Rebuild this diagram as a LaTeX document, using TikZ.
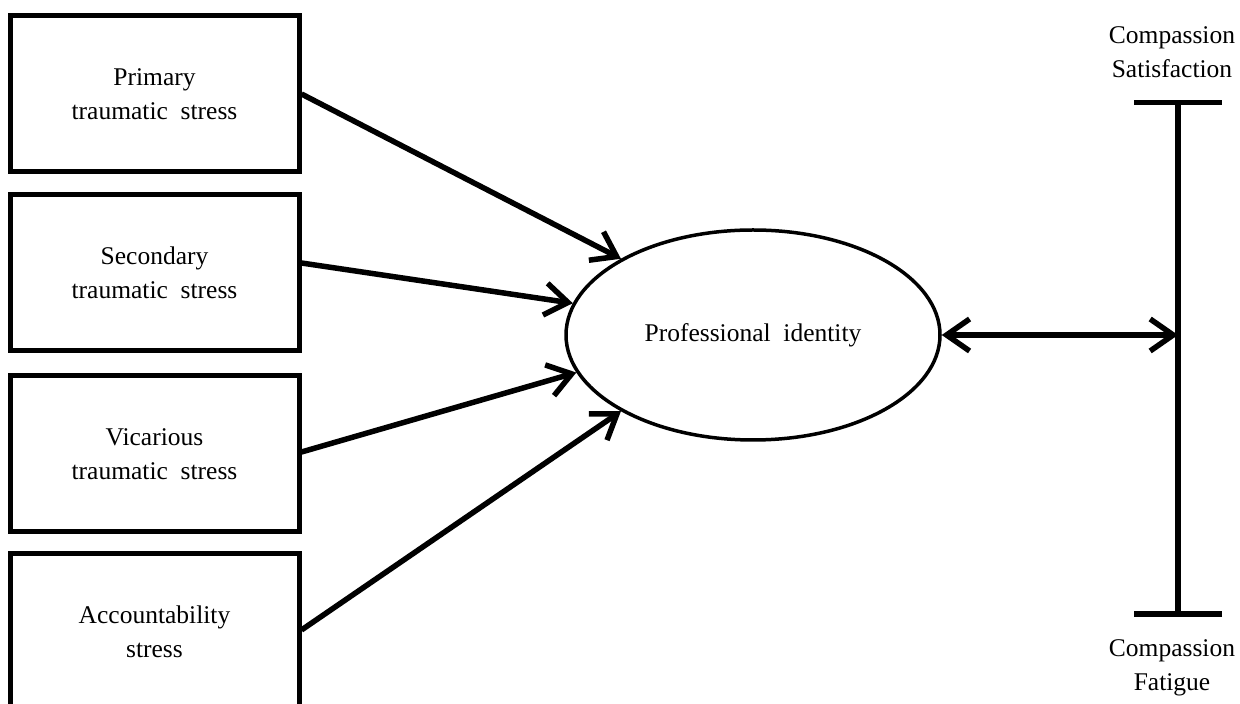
\documentclass[tikz,border=0pt]{standalone}
\usepackage{fontspec}
\setmainfont{Liberation Serif}
\usepackage{tikz}
\usetikzlibrary{arrows.meta,shapes.geometric}

\begin{document}
\begin{tikzpicture}[x=1pt, y=1pt,
    stressbox/.style={draw, line width=5pt, minimum width=289pt, minimum height=156pt, align=center, font=\fontsize{25.5}{34}\selectfont},
    idell/.style={draw, ellipse, line width=3.5pt, minimum width=374pt, minimum height=210pt, font=\fontsize{25.5}{34}\selectfont},
    polelabel/.style={align=center, font=\fontsize{25.5}{34}\selectfont},
    effect/.style={line width=5.5pt, -{Straight Barb[length=23pt, width=32pt, line width=5.5pt]}}]
  \clip (0,0) rectangle (1240,704);
  \node[stressbox] (pts) at (154.5,610) {Primary\\traumatic~~stress};
  \node[stressbox] (sts) at (154.5,431) {Secondary\\traumatic~~stress};
  \node[stressbox] (vts) at (154.5,250) {Vicarious\\traumatic~~stress};
  \node[stressbox] (acs) at (154.5,72) {Accountability\\stress};
  \node[idell] (pid) at (753,369) {Professional~~identity};
  % compassion continuum
  \coordinate (cstop) at (1178,604);
  \coordinate (csbot) at (1178,87);
  \coordinate (csmid) at (1178,369);
  \draw[line width=5.5pt, {Bar[width=88pt, line width=5.5pt]}-{Bar[width=88pt, line width=5.5pt]}] (cstop) -- (csbot);
  \node[polelabel] (cs) at (1172,652) {Compassion\\Satisfaction};
  \node[polelabel] (cf) at (1172,36) {Compassion\\Fatigue};
  % paths
  \draw[effect] (pts.east) -- (pid.150);
  \draw[effect] ([yshift=10pt]sts.east) -- (pid.170);
  \draw[effect] ([yshift=2pt]vts.east) -- (pid.192);
  \draw[effect] ([yshift=2pt]acs.east) -- (pid.210);
  \draw[effect, {Straight Barb[length=23pt, width=32pt, line width=5.5pt]}-{Straight Barb[length=23pt, width=32pt, line width=5.5pt]}] (pid.east) -- (csmid);
\end{tikzpicture}
\end{document}
